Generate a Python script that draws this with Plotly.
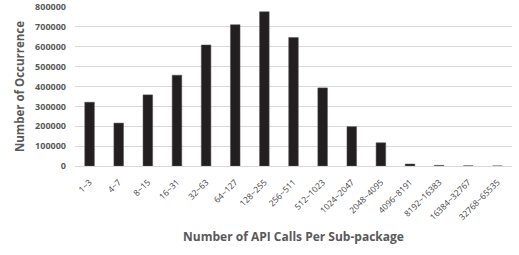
import plotly.graph_objects as go

categories = ["1~3", "4~7", "8~15", "16~31", "32~63", "64~127", "128~255", "256~511",
              "512~1023", "1024~2047", "2048~4095", "4096~8191", "8192~16383",
              "16384~32767", "32768~65535"]
occurrences = [321000, 216000, 358000, 457000, 609000, 711000, 776000, 647000,
               393000, 198000, 117000, 10000, 3000, 1000, 300]
y_ticks = [0, 100000, 200000, 300000, 400000, 500000, 600000, 700000, 800000]

gray = "#595959"
fig = go.Figure(go.Bar(x=categories, y=occurrences, marker=dict(color="#231f20", line=dict(color="#555555", width=0.5))))
fig.update_layout(
    width=519, height=255,
    margin=dict(l=75, r=7, t=7, b=89, autoexpand=False),
    plot_bgcolor="white", paper_bgcolor="white",
    bargap=0.67, showlegend=False,
    font=dict(family="'Open Sans', Lato, sans-serif", color=gray),
)
fig.update_xaxes(
    automargin=False,
    tickangle=-45, tickfont=dict(size=8.5, color="#404040"), ticklabelstandoff=7,
    showline=True, linecolor="#d9d9d9", linewidth=1,
    title=dict(text="<b>Number of API Calls Per Sub-package</b>", font=dict(size=12, color=gray), standoff=11),
)
fig.update_yaxes(
    automargin=False,
    range=[0, 800000], tickvals=y_ticks, ticktext=[f"<b>{v}</b>" for v in y_ticks],
    tickfont=dict(size=9, color=gray), showgrid=True, gridcolor="#d9d9d9", gridwidth=1,
    zeroline=False, ticklabelstandoff=8,
    title=dict(text="<b>Number of Occurrence</b>", font=dict(size=11.5, color=gray), standoff=8),
)
fig.write_html("out.html", post_script="document.body.style.margin='0';",
               config={"displayModeBar": False})
